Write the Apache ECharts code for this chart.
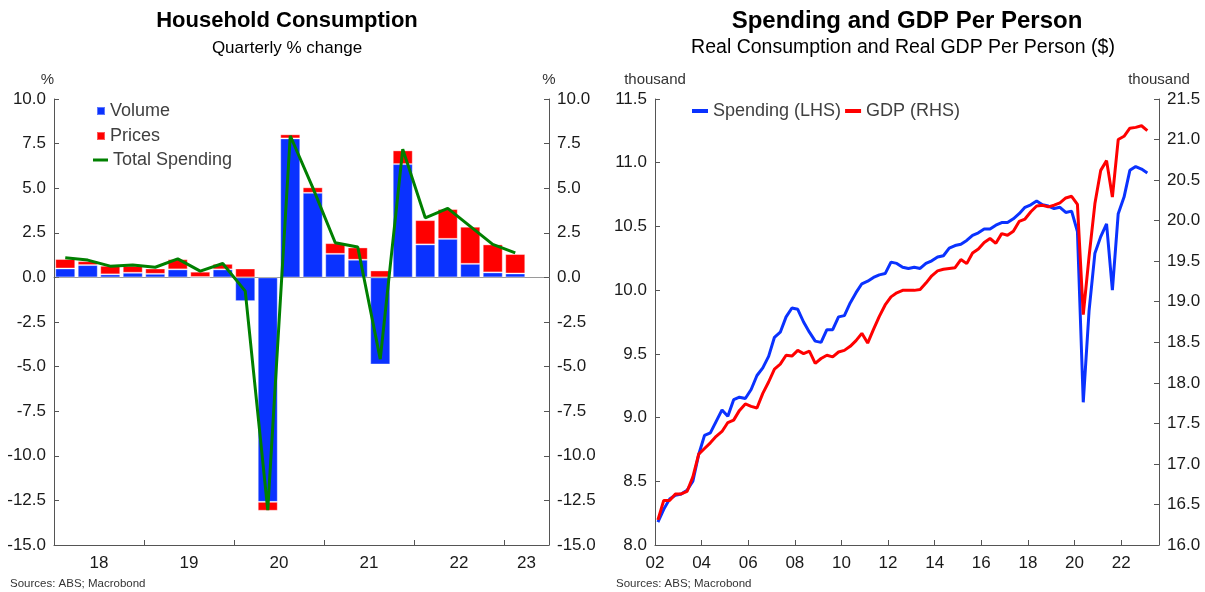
<!DOCTYPE html>
<html>
<head>
<meta charset="utf-8">
<script src="https://cdn.jsdelivr.net/npm/echarts@6/dist/echarts.min.js"></script>
<style>
  html, body { margin: 0; padding: 0; background: #fff; }
  #chart { width: 1205px; height: 592px; }
</style>
</head>
<body>
<div id="chart"></div>
<script>
// left panel: quarterly % change, 2018 Q1 - 2023 Q1 (axis runs to end of 2023 Q2)
const quarterCats = [
  "2018 Q1", "2018 Q2", "2018 Q3", "2018 Q4",
  "2019 Q1", "2019 Q2", "2019 Q3", "2019 Q4",
  "2020 Q1", "2020 Q2", "2020 Q3", "2020 Q4",
  "2021 Q1", "2021 Q2", "2021 Q3", "2021 Q4",
  "2022 Q1", "2022 Q2", "2022 Q3", "2022 Q4",
  "2023 Q1", "2023 Q2"
];
const volume = [0.50, 0.69, 0.17, 0.26, 0.20, 0.45, 0.02, 0.45, -1.33, -12.58, 7.79, 4.74, 1.32, 0.99, -4.88, 6.35, 1.85, 2.16, 0.76, 0.28, 0.22];
const prices = [0.53, 0.22, 0.48, 0.39, 0.30, 0.57, 0.30, 0.31, 0.50, -0.50, 0.23, 0.31, 0.60, 0.69, 0.39, 0.77, 1.36, 1.67, 2.08, 1.57, 1.09];
const totalSpending = [1.10, 0.97, 0.63, 0.70, 0.57, 1.04, 0.35, 0.78, -0.77, -13.05, 7.94, 5.03, 1.94, 1.70, -4.58, 7.19, 3.34, 3.87, 2.86, 1.85, 1.38];
const leftYearLabelAt = [2018.5, 2019.5, 2020.5, 2021.5, 2022.5, 2023.25];
const leftYearTickAt = [2019, 2020, 2021, 2022, 2023];

// right panel: quarterly, thousand $ per person, 2002 Q1 - 2023 Q1
const rightStartYear = 2002;
const spending = [
  8.18, 8.28, 8.36, 8.39, 8.40, 8.43, 8.50, 8.71, 8.86, 8.88,
  8.97, 9.06, 9.01, 9.14, 9.16, 9.15, 9.22, 9.33, 9.39, 9.48,
  9.63, 9.67, 9.79, 9.86, 9.85, 9.75, 9.67, 9.60, 9.59, 9.69,
  9.69, 9.79, 9.80, 9.90, 9.98, 10.05, 10.07, 10.10, 10.12, 10.13,
  10.22, 10.21, 10.18, 10.17, 10.18, 10.17, 10.21, 10.23, 10.26, 10.27,
  10.33, 10.35, 10.36, 10.39, 10.43, 10.45, 10.48, 10.48, 10.51, 10.53,
  10.53, 10.56, 10.60, 10.65, 10.67, 10.70, 10.67, 10.66, 10.64, 10.65,
  10.61, 10.62, 10.46, 9.12, 9.84, 10.29, 10.42, 10.52, 10.00, 10.60,
  10.73, 10.94, 10.97, 10.95, 10.92
];
const gdp = [
  16.31, 16.55, 16.55, 16.63, 16.63, 16.66, 16.84, 17.12, 17.19, 17.26,
  17.34, 17.40, 17.51, 17.54, 17.66, 17.74, 17.71, 17.69, 17.87, 18.01,
  18.17, 18.23, 18.34, 18.33, 18.40, 18.36, 18.39, 18.24, 18.30, 18.34,
  18.32, 18.38, 18.40, 18.45, 18.52, 18.61, 18.49, 18.66, 18.82, 18.96,
  19.06, 19.11, 19.14, 19.14, 19.14, 19.15, 19.23, 19.32, 19.38, 19.40,
  19.41, 19.42, 19.52, 19.47, 19.60, 19.65, 19.73, 19.78, 19.72, 19.84,
  19.82, 19.87, 19.99, 20.02, 20.11, 20.18, 20.19, 20.17, 20.19, 20.22,
  20.28, 20.30, 20.20, 18.84, 19.56, 20.21, 20.62, 20.74, 20.29, 21.00,
  21.04, 21.14, 21.15, 21.17, 21.11
];
const rightYearTicks = [2002, 2004, 2006, 2008, 2010, 2012, 2014, 2016, 2018, 2020, 2022];

// mid-quarter time for each point
const quarterTime = spending.map((v, i) => rightStartYear + (i + 0.5) / 4);

const BLUE = "#0a32ff";
const RED = "#ff0000";
const GREEN = "#008000";
const AXIS = "#555";
const LABEL = "#1a1a1a";
const FONT = "Liberation Sans, Arial, sans-serif";

let myChart = echarts.init(document.getElementById("chart"));

let yLabel = {
  color: LABEL,
  fontSize: 17,
  fontFamily: FONT,
  formatter: v => v.toFixed(1)
};
let yTick = { show: true, inside: true, length: 5, lineStyle: { color: AXIS } };
let yLine = { show: true, lineStyle: { color: AXIS, width: 1 } };
let yName = { color: "#333", fontSize: 15, fontFamily: FONT };
let legendText = { color: "#404040", fontSize: 18, fontFamily: FONT };

let option = {
  animation: false,
  textStyle: { fontFamily: FONT },
  graphic: [
    { type: "text", style: { text: "Household Consumption", x: 287, y: 21, textAlign: "center", textVerticalAlign: "middle", font: "bold 22px " + FONT, fill: "#000" } },
    { type: "text", style: { text: "Quarterly % change", x: 287, y: 48, textAlign: "center", textVerticalAlign: "middle", font: "17px " + FONT, fill: "#000" } },
    { type: "text", style: { text: "Spending and GDP Per Person", x: 907, y: 21, textAlign: "center", textVerticalAlign: "middle", font: "bold 24px " + FONT, fill: "#000" } },
    { type: "text", style: { text: "Real Consumption and Real GDP Per Person ($)", x: 903, y: 48, textAlign: "center", textVerticalAlign: "middle", font: "19.5px " + FONT, fill: "#000" } },
    { type: "text", style: { text: "Sources: ABS; Macrobond", x: 10, y: 584, textVerticalAlign: "middle", font: "11.5px " + FONT, fill: "#333" } },
    { type: "text", style: { text: "Sources: ABS; Macrobond", x: 616, y: 584, textVerticalAlign: "middle", font: "11.5px " + FONT, fill: "#333" } }
  ],
  legend: [
    {
      data: [{ name: "Volume", icon: "rect" }, { name: "Prices", icon: "rect" }],
      orient: "vertical",
      left: 91,
      top: 97,
      itemWidth: 8,
      itemHeight: 8,
      itemGap: 7,
      textStyle: legendText
    },
    {
      data: [{ name: "Total Spending", icon: "rect" }],
      left: 88,
      top: 146,
      itemWidth: 15,
      itemHeight: 3,
      textStyle: legendText
    },
    {
      data: [{ name: "Spending (LHS)", icon: "rect" }, { name: "GDP (RHS)", icon: "rect" }],
      left: 687,
      top: 97,
      itemWidth: 16,
      itemHeight: 4,
      itemGap: 4,
      textStyle: legendText
    }
  ],
  grid: [
    { left: 54, top: 99, width: 495, height: 446 },
    { left: 655, top: 99, width: 504, height: 446 }
  ],
  xAxis: [
    {
      type: "category",
      gridIndex: 0,
      data: quarterCats,
      axisLine: { show: true, onZero: true, onZeroAxisIndex: 0, lineStyle: { color: "#9a9a9a" } },
      axisTick: { show: false },
      axisLabel: { show: false },
      splitLine: { show: false }
    },
    {
      type: "value",
      gridIndex: 0,
      position: "bottom",
      min: 2018,
      max: 2023.5,
      axisLine: { show: true, onZero: false, lineStyle: { color: AXIS } },
      axisTick: { show: true, inside: true, length: 5, customValues: leftYearTickAt, lineStyle: { color: AXIS } },
      axisLabel: {
        customValues: leftYearLabelAt,
        formatter: v => String(Math.floor(v)).slice(2),
        color: LABEL, fontSize: 17, fontFamily: FONT, margin: 10
      },
      splitLine: { show: false }
    },
    {
      type: "value",
      gridIndex: 1,
      min: 2002,
      max: 2023.625,
      axisLine: { show: true, onZero: false, lineStyle: { color: AXIS } },
      axisTick: { show: true, inside: true, length: 5, customValues: rightYearTicks, lineStyle: { color: AXIS } },
      axisLabel: {
        customValues: rightYearTicks,
        formatter: v => String(v).slice(2),
        color: LABEL, fontSize: 17, fontFamily: FONT, margin: 10
      },
      splitLine: { show: false }
    }
  ],
  yAxis: [
    {
      type: "value", gridIndex: 0, position: "left",
      min: -15, max: 10, interval: 2.5,
      name: "%", nameGap: 12, nameTextStyle: Object.assign({ align: "right" }, yName),
      axisLine: yLine, axisTick: yTick, axisLabel: yLabel, splitLine: { show: false }
    },
    {
      type: "value", gridIndex: 0, position: "right",
      min: -15, max: 10, interval: 2.5,
      name: "%", nameGap: 12, nameTextStyle: Object.assign({ align: "center" }, yName),
      axisLine: yLine, axisTick: yTick, axisLabel: yLabel, splitLine: { show: false }
    },
    {
      type: "value", gridIndex: 1, position: "left",
      min: 8, max: 11.5, interval: 0.5,
      name: "thousand", nameGap: 12, nameTextStyle: Object.assign({ align: "center" }, yName),
      axisLine: yLine, axisTick: yTick, axisLabel: yLabel, splitLine: { show: false }
    },
    {
      type: "value", gridIndex: 1, position: "right",
      min: 16, max: 21.5, interval: 0.5,
      name: "thousand", nameGap: 12, nameTextStyle: Object.assign({ align: "center" }, yName),
      axisLine: yLine, axisTick: yTick, axisLabel: yLabel, splitLine: { show: false }
    }
  ],
  series: [
    {
      name: "Volume",
      type: "bar",
      xAxisIndex: 0,
      yAxisIndex: 0,
      stack: "total",
      barWidth: 20,
      color: BLUE,
      itemStyle: { borderColor: "rgba(255,255,255,0.35)", borderWidth: 1 },
      data: volume
    },
    {
      name: "Prices",
      type: "bar",
      xAxisIndex: 0,
      yAxisIndex: 0,
      stack: "total",
      barWidth: 20,
      color: RED,
      itemStyle: { borderColor: "rgba(255,255,255,0.35)", borderWidth: 1 },
      data: prices
    },
    {
      name: "Total Spending",
      type: "line",
      xAxisIndex: 0,
      yAxisIndex: 0,
      symbol: "none",
      color: GREEN,
      lineStyle: { width: 3 },
      data: totalSpending
    },
    {
      name: "Spending (LHS)",
      type: "line",
      xAxisIndex: 2,
      yAxisIndex: 2,
      symbol: "none",
      color: BLUE,
      lineStyle: { width: 3 },
      data: spending.map((v, i) => [quarterTime[i], v])
    },
    {
      name: "GDP (RHS)",
      type: "line",
      xAxisIndex: 2,
      yAxisIndex: 3,
      symbol: "none",
      color: RED,
      lineStyle: { width: 3 },
      data: gdp.map((v, i) => [quarterTime[i], v])
    }
  ]
};

myChart.setOption(option);
</script>
</body>
</html>
